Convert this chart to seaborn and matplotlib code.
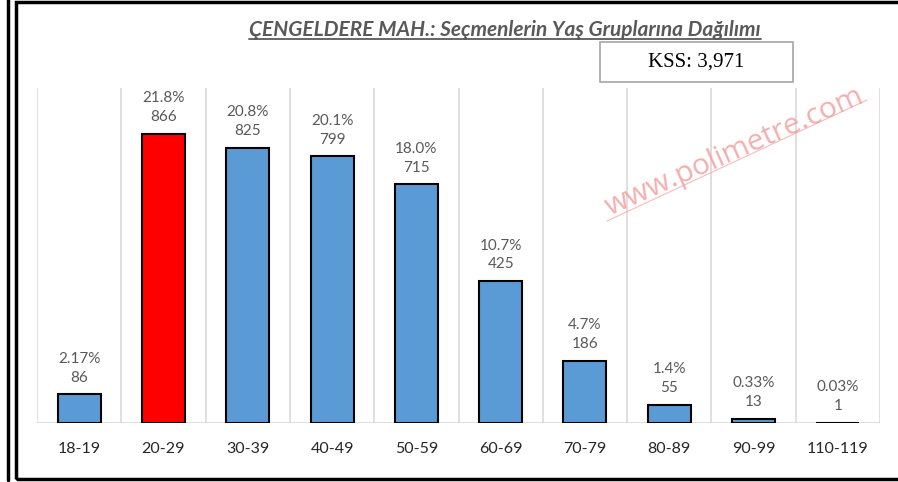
import matplotlib
matplotlib.use("Agg")
import matplotlib.pyplot as plt
import seaborn as sns
import pandas as pd
from matplotlib.patches import Rectangle
from matplotlib.lines import Line2D

# data
age_groups = ["18-19", "20-29", "30-39", "40-49", "50-59", "60-69", "70-79", "80-89", "90-99", "110-119"]
voters = [86, 866, 825, 799, 715, 425, 186, 55, 13, 1]
pct_labels = ["2.17%", "21.8%", "20.8%", "20.1%", "18.0%", "10.7%", "4.7%", "1.4%", "0.33%", "0.03%"]
total_voters = "3,971"

BLUE = "#5B9BD5"
RED = "#FF0000"
bar_colors = [RED if v == max(voters) else BLUE for v in voters]

sns.set_theme(style="white")
plt.rcParams["font.family"] = ["Lato", "DejaVu Sans"]

df = pd.DataFrame({"age": age_groups, "count": voters})

fig = plt.figure(figsize=(8.98, 4.82), dpi=100)
ax = fig.add_axes([37 / 898, 1 - 423 / 482, (880 - 37) / 898, (423 - 88) / 482])

sns.barplot(data=df, x="age", y="count", hue="age", palette=bar_colors, legend=False,
            width=0.51, edgecolor="black", linewidth=1.5, saturation=1, ax=ax)

ax.set_ylim(0, 1004)
ax.set_xlim(-0.5, len(age_groups) - 0.5)
ax.set_xlabel("")
ax.set_ylabel("")
ax.set_yticks([])
for s in ax.spines.values():
    s.set_visible(False)
# category separators + baseline
for i in range(len(age_groups) + 1):
    ax.axvline(i - 0.5, color="#D9D9D9", lw=1.2, zorder=0)
ax.axhline(0, color="#D9D9D9", lw=1.2, zorder=0)

ax.tick_params(axis="x", length=0, pad=14, labelsize=11.5, labelcolor="#262626")

for i, (v, p) in enumerate(zip(voters, pct_labels)):
    ax.annotate(f"{p}\n{v}", (i, v), xytext=(0, 7), textcoords="offset points",
                ha="center", va="bottom", fontsize=11, color="#595959", linespacing=1.45)

# title with underline
title = fig.text(505 / 898, 1 - 30 / 482, "ÇENGELDERE MAH.: Seçmenlerin Yaş Gruplarına Dağılımı",
                 ha="center", va="center", fontsize=15, fontweight="bold", fontstyle="italic",
                 color="#595959")
fig.canvas.draw()
bb = title.get_window_extent().transformed(fig.transFigure.inverted())
fig.add_artist(Line2D([bb.x0, bb.x1], [bb.y0 + 0.002, bb.y0 + 0.002], color="#595959", lw=1.3,
                      transform=fig.transFigure))

# KSS box
fig.add_artist(Rectangle((600 / 898, 1 - 82 / 482), 193 / 898, 40 / 482, transform=fig.transFigure,
                         fill=False, edgecolor="#A6A6A6", lw=1.2))
fig.text(696 / 898, 1 - 62 / 482, f"KSS: {total_voters}", ha="center", va="center",
         fontsize=15, family="Liberation Serif", color="black")

# watermark
fig.text(735 / 898, 1 - 152 / 482, "www.polimetre.com", ha="center", va="center", rotation=24,
         fontsize=21.5, color="#F4A0A0", alpha=0.85, family="Open Sans")
fig.add_artist(Line2D([607 / 898, 867 / 898], [1 - 221 / 482, 1 - 100 / 482], color="#F4A0A0",
                      alpha=0.7, lw=0.8, transform=fig.transFigure))

# outer frames
fig.add_artist(Rectangle((16 / 898, 1 - 479 / 482), 900 / 898, 477 / 482, transform=fig.transFigure,
                         fill=False, edgecolor="black", lw=2.5))
fig.add_artist(Line2D([8 / 898, 8 / 898], [1 - 480 / 482, 1], color="black", lw=2.5,
                      transform=fig.transFigure))

fig.savefig("out.png", dpi=100)
